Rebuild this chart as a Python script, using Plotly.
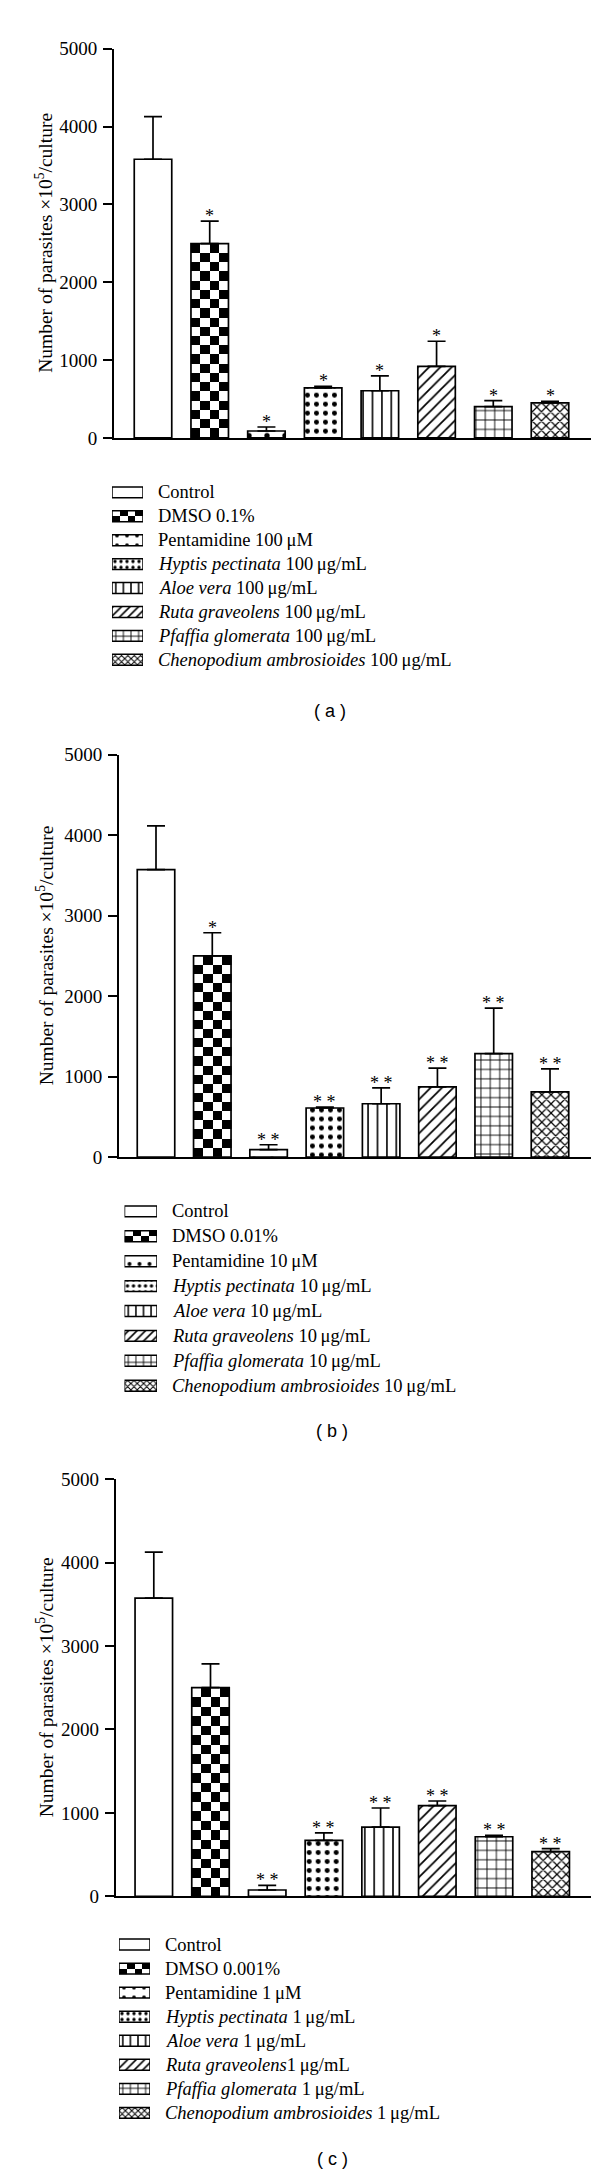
import plotly.graph_objects as go

# ---------------- data ----------------
groups = ["Control", "DMSO", "Pentamidine", "Hyptis pectinata", "Aloe vera",
          "Ruta graveolens", "Pfaffia glomerata", "Chenopodium ambrosioides"]

means_a = [3580, 2496, 89, 644, 606, 919, 403, 449]
upper_a = [4127, 2784, 140, 661, 797, 1242, 479, 470]
stars_a = ["", "*", "*", "*", "*", "*", "*", "*"]

means_b = [3570, 2500, 95, 611, 664, 873, 1287, 811]
upper_b = [4115, 2787, 155, 623, 861, 1107, 1852, 1098]
stars_b = ["", "*", "* *", "* *", "* *", "* *", "* *", "* *"]

means_c = [3574, 2501, 77, 671, 830, 1087, 715, 537]
upper_c = [4125, 2786, 133, 762, 1059, 1143, 731, 572]
stars_c = ["", "", "* *", "* *", "* *", "* *", "* *", "* *"]

MU = "\u03bc"
TS = "\u2009"
legend_a = ["Control", "DMSO 0.1%", f"Pentamidine 100{TS}{MU}M",
            f"<i>Hyptis pectinata</i> 100{TS}{MU}g/mL", f"<i>Aloe vera</i> 100{TS}{MU}g/mL",
            f"<i>Ruta graveolens</i> 100{TS}{MU}g/mL", f"<i>Pfaffia glomerata</i> 100{TS}{MU}g/mL",
            f"<i>Chenopodium ambrosioides</i> 100{TS}{MU}g/mL"]
legend_b = ["Control", "DMSO 0.01%", f"Pentamidine 10{TS}{MU}M",
            f"<i>Hyptis pectinata</i> 10{TS}{MU}g/mL", f"<i>Aloe vera</i> 10{TS}{MU}g/mL",
            f"<i>Ruta graveolens</i> 10{TS}{MU}g/mL", f"<i>Pfaffia glomerata</i> 10{TS}{MU}g/mL",
            f"<i>Chenopodium ambrosioides</i> 10{TS}{MU}g/mL"]
legend_c = ["Control", "DMSO 0.001%", f"Pentamidine 1{TS}{MU}M",
            f"<i>Hyptis pectinata</i> 1{TS}{MU}g/mL", f"<i>Aloe vera</i> 1{TS}{MU}g/mL",
            f"<i>Ruta graveolens</i>1{TS}{MU}g/mL", f"<i>Pfaffia glomerata</i> 1{TS}{MU}g/mL",
            f"<i>Chenopodium ambrosioides</i> 1{TS}{MU}g/mL"]
tags = ["( a )", "( b )", "( c )"]
y_ticks = [0, 1000, 2000, 3000, 4000, 5000]
y_title = "Number of parasites ×10<sup>5</sup>/culture"

# ---------------- styles ----------------
W, H = 600, 2178
SERIF = "Liberation Serif"
SANS = "Liberation Sans"
TICK_FS = 19
LEG_FS = 18.5
TITLE_FS = 19.5

pat_shape = ["", "", ".", ".", "|", "/", "+", "x"]
pat_size = [10, 10, 18, 9, 9.4, 8, 9.4, 6.5]
pat_solid = [0.2, 0.2, 0.07, 0.24, 0.17, 0.22, 0.18, 0.34]
leg_pat_size = [10, 10, 10, 6, 7.6, 6, 7.6, 4.5]
leg_pat_solid = [0.2, 0.2, 0.12, 0.25, 0.2, 0.27, 0.22, 0.4]
fill = ["white", "rgba(0,0,0,0)", "white", "white", "white", "white", "white", "white"]

layouts = [
    dict(axis_x=106, y_top=31, y_zero=424, first=145, last=542,
         box=(104, 135), text_x=148, rows=(479, 648), tag_y=700, tag_x=322),
    dict(axis_x=111, y_top=743.7, y_zero=1150.3, first=148, last=542,
         box=(116.5, 149), text_x=162, rows=(1205, 1381), tag_y=1427, tag_x=324),
    dict(axis_x=107.7, y_top=1475.3, y_zero=1896.7, first=145.8, last=542.7,
         box=(111, 142), text_x=155, rows=(1945.3, 2115.3), tag_y=2162, tag_x=324),
]
AXIS_END = 583
BAR_PX = 37.5
LEG_BOX_H = 11
CHECK_PX = 9.4


def px(x):
    return x / W


def py(y):
    return 1 - y / H


def pattern(i, sizes, solids):
    if not pat_shape[i]:
        return dict(shape="")
    return dict(shape=pat_shape[i], size=sizes[i], solidity=solids[i],
                fgcolor="black", bgcolor="white", fgopacity=1, fillmode="overlay")


fig = go.Figure()
annotations = []
data_sets = [(means_a, upper_a, stars_a, legend_a),
             (means_b, upper_b, stars_b, legend_b),
             (means_c, upper_c, stars_c, legend_c)]

for p, ((means, upper, stars, labels), L) in enumerate(zip(data_sets, layouts)):
    xa = f"x{2*p+1}" if p > 0 else "x"
    ya = f"y{2*p+1}" if p > 0 else "y"
    xl = f"x{2*p+2}"
    yl = f"y{2*p+2}"
    n = len(groups)
    pos = list(range(n))
    spacing = (L["last"] - L["first"]) / (n - 1)
    bw = BAR_PX / spacing
    x_lo = (L["axis_x"] - L["first"]) / spacing
    x_hi = (n - 1) + (AXIS_END - L["last"]) / spacing

    # checkerboard for DMSO (drawn under the outlined bar)
    d = 1
    ncol = 4
    dx = bw / ncol
    y_scale = (L["y_zero"] - L["y_top"]) / 5000.0
    nrow = max(1, round(means[d] * y_scale / CHECK_PX))
    dy = means[d] / nrow
    xs = [d - bw / 2 + dx * (k + 0.5) for k in range(ncol)]
    ys = [dy * (r + 0.5) for r in range(nrow)]
    z = [[(r + c + 1) % 2 for c in range(ncol)] for r in range(nrow)]
    fig.add_trace(go.Heatmap(x=xs, y=ys, z=z, xaxis=xa, yaxis=ya, showscale=False,
                             colorscale=[[0, "white"], [1, "black"]], zmin=0, zmax=1,
                             hoverinfo="skip", zsmooth=False))

    for i in range(n):
        fig.add_trace(go.Bar(
            x=[pos[i]], y=[means[i]], width=bw, xaxis=xa, yaxis=ya, showlegend=False,
            name=groups[i],
            marker=dict(color=fill[i], line=dict(color="black", width=1.7),
                        pattern=pattern(i, pat_size, pat_solid)),
            error_y=dict(type="data", symmetric=False, array=[upper[i] - means[i]],
                         arrayminus=[0], color="black", thickness=1.7, width=9),
        ))
        if stars[i]:
            annotations.append(dict(x=pos[i], y=upper[i], xref=xa, yref=ya, text=stars[i],
                                    showarrow=False, yanchor="bottom", yshift=-7,
                                    font=dict(family=SERIF, size=18, color="black")))

    fig.layout[f"xaxis{2*p+1 if p else ''}"] = dict(
        domain=[px(L["axis_x"]), px(AXIS_END)], range=[x_lo, x_hi], anchor=ya,
        showline=True, linecolor="black", linewidth=1.7, showticklabels=False,
        ticks="", showgrid=False, zeroline=False, fixedrange=True)
    fig.layout[f"yaxis{2*p+1 if p else ''}"] = dict(
        domain=[py(L["y_zero"]), py(L["y_top"])], range=[0, 5000], anchor=xa,
        tickvals=y_ticks, ticks="outside", ticklen=9, tickwidth=1.7, tickcolor="black",
        showline=True, linecolor="black", linewidth=1.7, showgrid=False, zeroline=False,
        tickfont=dict(family=SERIF, size=TICK_FS, color="black"), ticklabelstandoff=2)

    annotations.append(dict(x=px(36.5), y=py((L["y_top"] + L["y_zero"]) / 2),
                            xref="paper", yref="paper", text=y_title, textangle=-90,
                            showarrow=False, xanchor="center", yanchor="middle",
                            font=dict(family=SERIF, size=TITLE_FS, color="black")))

    # legend drawn as small horizontal bars on its own axes
    r0, r1 = L["rows"]
    rs = (r1 - r0) / (n - 1)
    lh = LEG_BOX_H / rs
    fig.add_trace(go.Heatmap(
        x=[0.125, 0.375, 0.625, 0.875], y=[d - lh / 4, d + lh / 4],
        z=[[(r + c) % 2 for c in range(4)] for r in range(2)], xaxis=xl, yaxis=yl,
        showscale=False, colorscale=[[0, "white"], [1, "black"]], zmin=0, zmax=1,
        hoverinfo="skip", zsmooth=False))
    for i in range(n):
        fig.add_trace(go.Bar(
            y=[pos[i]], x=[1], orientation="h", width=lh, xaxis=xl, yaxis=yl,
            showlegend=False, hoverinfo="skip", name=groups[i],
            marker=dict(color=fill[i], line=dict(color="black", width=1.5),
                        pattern=pattern(i, leg_pat_size, leg_pat_solid)),
        ))
        annotations.append(dict(x=px(L["text_x"]), y=pos[i], xref="paper", yref=yl,
                                text=labels[i], showarrow=False, xanchor="left",
                                yanchor="middle",
                                font=dict(family=SERIF, size=LEG_FS, color="black")))
    fig.layout[f"xaxis{2*p+2}"] = dict(domain=[px(L["box"][0]), px(L["box"][1])],
                                       range=[0, 1], visible=False, anchor=yl, fixedrange=True)
    fig.layout[f"yaxis{2*p+2}"] = dict(domain=[py(r1 + rs / 2), py(r0 - rs / 2)],
                                       range=[n - 0.5, -0.5], visible=False, anchor=xl,
                                       fixedrange=True)

    annotations.append(dict(x=px(L["tag_x"]), y=py(L["tag_y"]), xref="paper", yref="paper",
                            text=tags[p], showarrow=False, xanchor="center", yanchor="middle",
                            font=dict(family=SANS, size=18, color="black")))

fig.update_layout(width=W, height=H, margin=dict(l=0, r=0, t=0, b=0),
                  paper_bgcolor="white", plot_bgcolor="rgba(0,0,0,0)",
                  showlegend=False, annotations=annotations, barmode="overlay")
fig.write_html("out.html")
